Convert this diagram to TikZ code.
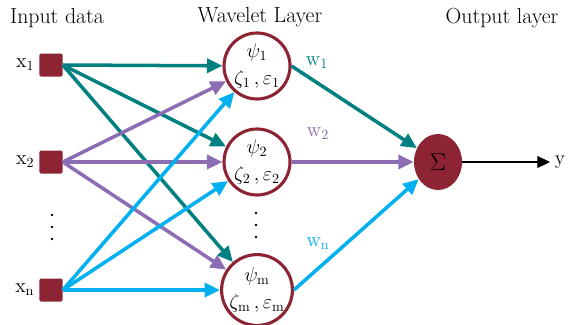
\documentclass[tikz,border=0pt]{standalone}
\usepackage{tikz}
\usetikzlibrary{positioning,arrows.meta,shapes.geometric}
\definecolor{wnTeal}{RGB}{0,128,128}
\definecolor{wnPurple}{RGB}{140,108,178}
\definecolor{wnCyan}{RGB}{0,176,240}
\definecolor{wnRed}{RGB}{140,36,52}
\tikzset{
    wn input/.style={
        rectangle,
        minimum size=0.575cm,
        inner sep=0pt,
        rounded corners=1pt,
        fill=wnRed,
        draw=none
    },
    wn neuron/.style={
        circle,
        minimum size=1.65cm,
        inner sep=0pt,
        draw=wnRed,
        line width=2.2pt,
        fill=white,
        align=center,
        font=\fontsize{14}{19}\selectfont
    },
    wn sum/.style={
        ellipse,
        minimum width=1.2cm,
        minimum height=1.4cm,
        inner sep=0pt,
        fill=wnRed,
        draw=none,
        font=\fontsize{16}{16}\selectfont
    },
    wn title/.style={font=\fontsize{15.5}{18}\selectfont, anchor=base},
    wn label/.style={font=\fontsize{14}{16}\selectfont, text=black},
    wn weight/.style={font=\fontsize{14}{16}\selectfont, text=#1},
    wn dot/.style={circle, fill=black, minimum size=2pt, inner sep=0pt},
    wn link/.style={line width=2.5pt, draw=#1, -{Triangle[length=11pt,width=10pt]}}
}

\begin{document}
\begin{tikzpicture}[x=0.025cm, y=-0.025cm]
\useasboundingbox (0,0) rectangle (569,324);

% Layer titles
\node[wn title] (t-in) at (57,23) {Input data};
\node[wn title] (t-wl) at (260,22) {Wavelet Layer};
\node[wn title] (t-out) at (502,23) {Output layer};

% Input data (names x-row)
\node[wn input, label={[wn label]left:$\mathrm{x}_1$}] (x-1) at (51,65) {};
\node[wn input, label={[wn label]left:$\mathrm{x}_2$}] (x-2) at (51,162) {};
\node[wn input, label={[wn label]left:$\mathrm{x}_\mathrm{n}$}] (x-n) at (51,290) {};

% Wavelet neurons
\node[wn neuron] (psi-1) at (257,66) {$\psi_1$\\$\zeta_1\,,\varepsilon_1$};
\node[wn neuron] (psi-2) at (257,162) {$\psi_2$\\$\zeta_2\,,\varepsilon_2$};
\node[wn neuron] (psi-m) at (257,290) {$\psi_\mathrm{m}$\\$\zeta_\mathrm{m}\,,\varepsilon_\mathrm{m}$};

% Vertical dots between the rows
\foreach \i/\yy in {1/215, 2/227, 3/239} {
    \node[wn dot] (x-dot-\i) at (52,\yy) {};
    \node[wn dot] (psi-dot-\i) at (256,\yy-2) {};
}

% Output neuron
\node[wn sum] (sum) at (438,162) {$\Sigma$};
\node[wn label, anchor=west] (y) at (550,162) {y};

% Connect every input to every wavelet neuron
\foreach \src/\col in {x-1/wnTeal, x-2/wnPurple, x-n/wnCyan}
    \foreach \dst in {psi-1, psi-2, psi-m}
        \draw[wn link=\col] (\src.east) -- (\dst);

\draw[wn link=wnTeal] (psi-1.east) -- (sum);
\draw[wn link=wnPurple] (psi-2.east) -- (sum);
\draw[wn link=wnCyan] (psi-m.east) -- (sum);
\draw[line width=0.8pt, -{Triangle[length=9pt,width=8.5pt]}] (sum.east) -- (y);

% Weights
\node[wn weight=wnTeal] (w-1) at (317,63) {$\mathrm{w}_1$};
\node[wn weight=wnPurple] (w-2) at (318,134) {$\mathrm{w}_2$};
\node[wn weight=wnCyan] (w-n) at (318,244) {$\mathrm{w}_\mathrm{n}$};

\end{tikzpicture}
\end{document}
